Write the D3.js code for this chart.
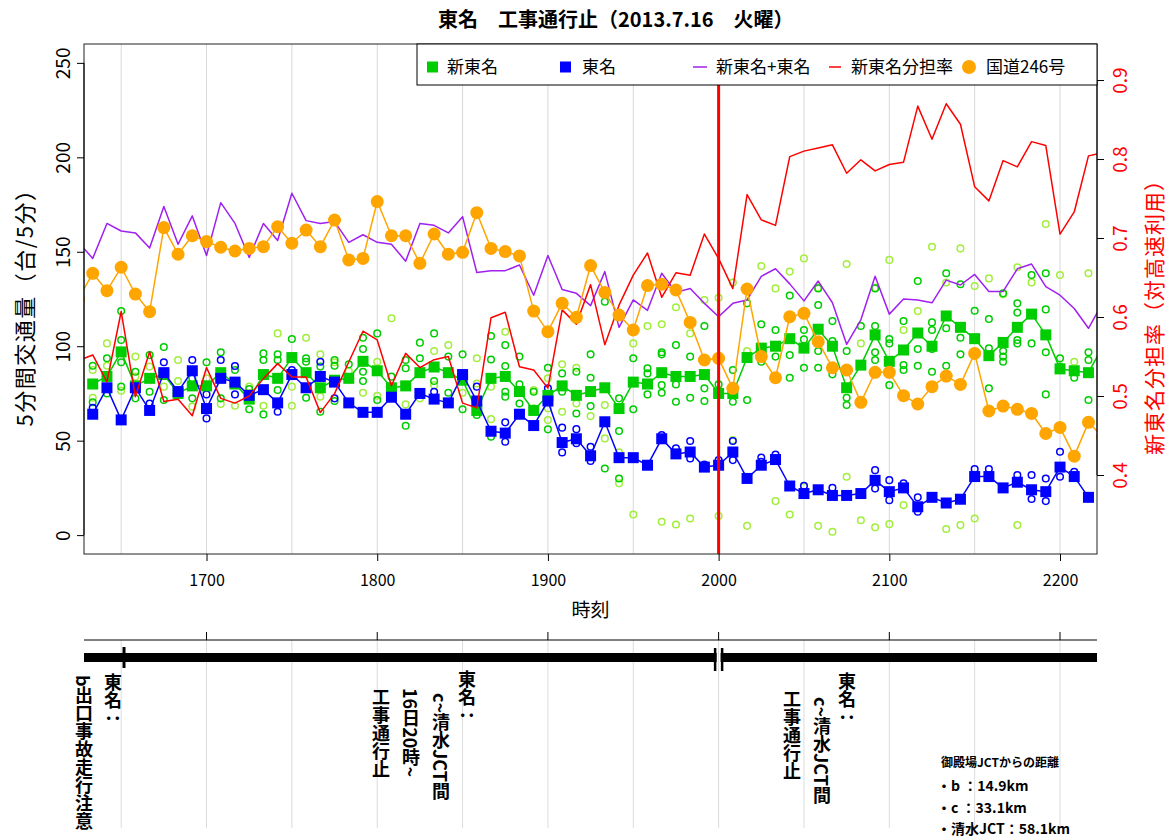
<!DOCTYPE html>
<html>
<head>
<meta charset="utf-8">
<script src="https://cdn.jsdelivr.net/npm/d3@7"></script>
<style>
  html, body { margin: 0; padding: 0; background: #fff; }
  svg { display: block; }
  text { font-family: "Noto Sans CJK JP", "Noto Sans", sans-serif; }
</style>
</head>
<body>
<svg id="chart" width="1172" height="837"></svg>
<script>
// 5-minute time stamps (16:15 and 22:15 lie just outside the visible window)
const times = [
  "16:15","16:20","16:25","16:30","16:35","16:40","16:45","16:50","16:55",
  "17:00","17:05","17:10","17:15","17:20","17:25","17:30","17:35","17:40","17:45","17:50","17:55",
  "18:00","18:05","18:10","18:15","18:20","18:25","18:30","18:35","18:40","18:45","18:50","18:55",
  "19:00","19:05","19:10","19:15","19:20","19:25","19:30","19:35","19:40","19:45","19:50","19:55",
  "20:00","20:05","20:10","20:15","20:20","20:25","20:30","20:35","20:40","20:45","20:50","20:55",
  "21:00","21:05","21:10","21:15","21:20","21:25","21:30","21:35","21:40","21:45","21:50","21:55",
  "22:00","22:05","22:10","22:15"
];

// 新東名 (vehicles / 5 min)
const shinTomei = [
  null, 80, 84, 97, 79, 83, 85, 75, 79,
  79, 86, 80, 72, 85, 83, 94, 86, 78, 82, 83, 92,
  87, 78, 79, 86, 89, 86, 82, 66, 83, 84, 76, 66,
  74, 79, 74, 76, 78, 67, 81, 80, 86, 84, 84, 85,
  75, 75, 94, 99, 100, 104, 99, 109, 100, 78, 90, 106,
  92, 98, 107, 100, 116, 110, 104, 95, 102, 110, 117, 106,
  88, 87, 86, 100
];

// 東名 (vehicles / 5 min)
const tomei = [
  null, 64, 78, 61, 78, 66, 86, 76, 87,
  67, 83, 81, 74, 77, 70, 85, 78, 84, 81, 70, 65,
  65, 73, 64, 75, 72, 70, 85, 71, 55, 54, 64, 58,
  71, 49, 51, 42, 60, 41, 41, 37, 51, 43, 44, 36,
  37, 44, 30, 37, 40, 26, 22, 24, 21, 21, 22, 29,
  23, 25, 15, 20, 17, 19, 31, 31, 25, 28, 24, 23,
  36, 31, 20, null
];

// 新東名+東名
const combined = [
  155, 146.5, 165, 161, 160, 152, 174, 154, 169,
  148, 176, 165, 147, 165, 156, 181, 166.5, 165, 166, 155, 159,
  155, 154, 145, 165, 164, 160, 168.6, 139, 140, 140, 143, 127,
  148, 130, 128, 121.5, 139.5, 110, 124.5, 119, 138.6, 128.5, 130.6, 122.7,
  115.6, 122.7, 124.5, 137, 141, 133, 124, 134.5, 123, 101, 114, 137,
  117, 125, 124.5, 123, 135, 132.4, 138, 129, 129, 141, 143.5, 131.5,
  127, 120, 109.5, 123
];

// 新東名分担率 (share of expressway traffic)
const shareShinTomei = [
  0.545, 0.552, 0.518, 0.607, 0.499, 0.556, 0.493, 0.496, 0.475,
  0.536, 0.497, 0.491, 0.500, 0.522, 0.541, 0.524, 0.524, 0.479, 0.503, 0.543, 0.582,
  0.571, 0.513, 0.554, 0.536, 0.546, 0.550, 0.491, 0.485, 0.599, 0.606, 0.537, 0.533,
  0.510, 0.609, 0.591, 0.641, 0.565, 0.615, 0.653, 0.681, 0.625, 0.656, 0.653, 0.705,
  0.674, 0.636, 0.755, 0.723, 0.716, 0.803, 0.810, 0.814, 0.818, 0.782, 0.799, 0.785,
  0.793, 0.796, 0.867, 0.825, 0.870, 0.844, 0.765, 0.747, 0.798, 0.790, 0.822, 0.817,
  0.705, 0.733, 0.804, 0.808
];

// 国道246号 (vehicles / 5 min)
const route246 = [
  125, 138.6, 129.4, 141.8, 127.6, 118.3, 162.8, 148.7, 158.5,
  155.4, 152.4, 150.4, 151.8, 152.7, 163.3, 154.5, 161.5, 152.7, 166.8, 145.7, 146.5,
  176.6, 158.5, 158.5, 143.9, 159.4, 148.7, 149.7, 170.7, 151.8, 150.1, 147.8, 118.6,
  107.7, 122.7, 115.3, 142.7, 128.5, 116.5, 108.6, 132.1, 132.8, 129.8, 112.6, 92.7,
  93.6, 77.7, 130.3, 94.5, 83.3, 115.6, 117.4, 102.4, 88.6, 87.4, 70.3, 86.2,
  86.2, 73.8, 69.4, 78.6, 84.2, 79.8, 96.2, 65.7, 68.3, 66.6, 64.4, 53.8,
  57, 41.8, 59.7, 52
];

// individual counter sections, 新東名 (open circles, dark green)
const sectionsShinTomei = [
  [], [89.7,70.3], [93.6,75.0], [118.6,103.3,91.5,78.6], [86.5,72.4], [95.3,75.9], [99.6,71.5], [], [83.0,72.4],
  [91.5], [96.8,72.4], [87.4], [77.3,66.6], [96.2,92.7,63.9], [95.7,92.7,76.8], [103.8], [93.6,91.8,72.7], [89.2,65.3], [92.7,89.7,71.0], [90.4], [104.5,98.5,86.5,81.6],
  [106.8,71.5], [83.9], [92.7,88.3,57.9], [101.9,93.6], [106.8,81.6], [94.5,75.4], [95.7,66.6], [63.6], [105.4,93.0,52.1], [100.6,89.5,75.9,73.3], [94.5,79.8,69.7], [75.9],
  [88.6,56.0], [85.6,75.9], [86.5,64.4], [95.7,83.3,68.3], [123.6,35.3], [72.4,55.1,30.0], [93.6,66.6], [88.3,85.6,74.5], [96.8,95.7,79.4,75.4], [100.6,79.8,70.6], [94.5,72.7], [110.7,77.7,71.0],
  [79.8], [87.4,70.6], [122.7,71.5], [111.6,91.8], [108.6,94.5], [126.8,95.3,83.3], [108.6,103.6,88.6], [130.6,121.8,97.5,88.6], [113.3,102.8,85.1], [97.5,72.7,68.9], [110.7], [130.6,110.7,96.8,92.7],
  [103.8,101.5,79.4], [113.3,90.0,87.4], [134.5,98.5,89.7], [112.6,108.6,98.5,86.5], [138.6,109.5,89.7], [132.8,104.5,95.7], [118.8], [114.4,98.9,77.7], [128.0,97.5,94.5,91.8], [122.7,117.8,103.3,101.5], [137.7,101.5], [138.6,119.5,96.8,74.5],
  [93.6,89.2], [83.3], [96.8,92.7,71.5], []
];

// individual counter sections, 新東名 (open circles, light green)
const sectionsShinTomeiB = [
  [], [87.4,72.7], [101.5,89.7], [76.4], [94.5,83.9], [89.2], [78.6], [92.7,81.6], [68.0],
  [83.0], [69.4], [68.5], [78.6], [68.5], [106.8], [78.6,68.5], [104.5], [95.7,73.3], [91.5], [86.9], [75.4],
  [91.8,73.8], [114.8], [69.2], [72.4], [97.5,79.4], [100.6], [75.4], [93.6,80.3], [78.6,61.4], [107.7], [], [76.8,67.1],
  [83.0,67.1,60.9], [90.4,65.3], [88.6,69.7], [63.0], [68.9,51.2], [43.8,27.4], [101.5,10.9], [110.7], [111.6,7.1], [120.6,5.6], [106.8,8.8], [124.5],
  [125.7,76.8,10.1], [133.7,50.3], [97.5,4.9], [142.5], [130.6,18.0], [139.5,10.9], [146.5,25.6], [131.0,4.9], [1.8], [143.5,30.9], [101.5,7.9], [131.0,4.1],
  [145.7,5.8], [108.6,15.9], [118.6], [152.7], [133.7,3.2], [151.8,5.3], [131.9,8.8], [135.9], [127.5], [141.8,5.3], [133.7], [164.7],
  [137.7], [91.8], [138.6], []
];

// individual counter sections, 東名 (open circles, blue)
const sectionsTomei = [
  [], [67.4], [], [], [], [69.7], [91.5], [], [92.7],
  [74.5,61.8], [92.7], [89.5,74.5], [], [], [65.3], [87.4], [], [91.8], [72.4], [], [],
  [], [], [], [], [75.9], [], [], [78.6], [], [59.7,49.4], [], [],
  [77.7], [56.9,43.8], [56.1,48.6], [46.8,39.2], [], [], [], [], [53.0], [45.9], [49.8,40.6], [37.4],
  [39.7], [49.8,39.7], [], [41.1,38.8], [42.7], [], [26.1], [], [25.1], [], [], [34.4,24.7],
  [29.1,18.5], [27.4], [20.0,12.4], [], [], [], [35.0], [35.0], [], [31.8], [31.8,19.1], [30.0,18.0],
  [44.1,30.9], [33.5], [], []
];

const hourTicks = ["17:00","18:00","19:00","20:00","21:00","22:00"];
const gridTimes = ["16:30","17:00","17:30","18:00","18:30","19:00","19:30","20:00","20:30","21:00","21:30","22:00"];
const leftTicks = [0, 50, 100, 150, 200, 250];
const rightTicks = [0.4, 0.5, 0.6, 0.7, 0.8, 0.9];

const colors = {
  shinTomei: "#00cd00", shinTomeiB: "#a2ee3c", tomei: "#0000ff",
  combined: "#a020f0", share: "#ff0000", route246: "#ffa500"
};

const svg = d3.select("#chart");
const plot = { left: 84, right: 1097, top: 44, bottom: 554 };
const parseT = d3.timeParse("%H:%M");
const parseTs = d3.timeParse("%H:%M:%S");
const tDates = times.map(parseT);

const x = d3.scaleTime()
  .domain([parseTs("16:16:56"), parseTs("22:13:00")])
  .range([plot.left, plot.right]);
const yL = d3.scaleLinear().domain([-10, 260]).range([plot.bottom, plot.top]);
const yR = d3.scaleLinear().domain([0.3, 0.9456]).range([plot.bottom, plot.top]);

svg.append("defs").append("clipPath").attr("id", "plotClip")
  .append("rect")
  .attr("x", plot.left).attr("y", plot.top)
  .attr("width", plot.right - plot.left).attr("height", plot.bottom - plot.top);

// title
svg.append("text")
  .attr("x", 438).attr("y", 27)
  .style("font-size", "20px").style("font-weight", "bold")
  .text("東名　工事通行止（2013.7.16　火曜）");

// vertical grid every 30 minutes
svg.append("g").selectAll("line").data(gridTimes).join("line")
  .attr("x1", d => x(parseT(d))).attr("x2", d => x(parseT(d)))
  .attr("y1", plot.top).attr("y2", plot.bottom)
  .attr("stroke", "#d8d8d8").attr("stroke-width", 1);

const marks = svg.append("g").attr("clip-path", "url(#plotClip)");

// section circles
function sectionCircles(sets, color) {
  const pts = [];
  sets.forEach((vals, i) => vals.forEach(v => pts.push({ t: tDates[i], v })));
  marks.append("g").selectAll("circle").data(pts).join("circle")
    .attr("cx", d => x(d.t)).attr("cy", d => yL(d.v)).attr("r", 3.3)
    .attr("fill", "none").attr("stroke", color).attr("stroke-width", 1.5);
}
sectionCircles(sectionsShinTomeiB, colors.shinTomeiB);
sectionCircles(sectionsShinTomei, colors.shinTomei);
sectionCircles(sectionsTomei, colors.tomei);

function seriesLine(vals, yScale, color, width) {
  const line = d3.line()
    .defined(d => d[1] !== null)
    .x(d => x(d[0])).y(d => yScale(d[1]));
  marks.append("path")
    .datum(vals.map((v, i) => [tDates[i], v]))
    .attr("d", line).attr("fill", "none")
    .attr("stroke", color).attr("stroke-width", width)
    .attr("stroke-linejoin", "round");
}
function squares(vals, color) {
  const s = 11;
  marks.append("g").selectAll("rect")
    .data(vals.map((v, i) => [tDates[i], v]).filter(d => d[1] !== null))
    .join("rect")
    .attr("x", d => x(d[0]) - s / 2).attr("y", d => yL(d[1]) - s / 2)
    .attr("width", s).attr("height", s).attr("fill", color);
}

seriesLine(shinTomei, yL, colors.shinTomei, 1.5);
squares(shinTomei, colors.shinTomei);
seriesLine(tomei, yL, colors.tomei, 1.5);
squares(tomei, colors.tomei);
seriesLine(combined, yL, colors.combined, 1.5);
seriesLine(shareShinTomei, yR, colors.share, 1.5);
seriesLine(route246, yL, colors.route246, 1.5);
marks.append("g").selectAll("circle")
  .data(route246.map((v, i) => [tDates[i], v]))
  .join("circle")
  .attr("cx", d => x(d[0])).attr("cy", d => yL(d[1])).attr("r", 6.5)
  .attr("fill", colors.route246);

// closure start marker at 20:00
svg.append("line")
  .attr("x1", x(parseT("20:00"))).attr("x2", x(parseT("20:00")))
  .attr("y1", plot.top).attr("y2", plot.bottom)
  .attr("stroke", "#ff0000").attr("stroke-width", 3);

// frame
svg.append("rect")
  .attr("x", plot.left).attr("y", plot.top)
  .attr("width", plot.right - plot.left).attr("height", plot.bottom - plot.top)
  .attr("fill", "none").attr("stroke", "#222").attr("stroke-width", 1);

// axes
const xAxis = svg.append("g").attr("transform", `translate(0,${plot.bottom})`)
  .call(d3.axisBottom(x).tickValues(hourTicks.map(parseT))
    .tickFormat(d3.timeFormat("%H%M")).tickSize(7).tickSizeOuter(0));
xAxis.select(".domain").remove();
xAxis.selectAll("text").attr("y", 21).attr("dy", "0.71em")
  .style("font-size", "16px").attr("fill", "#000");

const yAxisL = svg.append("g").attr("transform", `translate(${plot.left},0)`)
  .call(d3.axisLeft(yL).tickValues(leftTicks).tickSize(7).tickSizeOuter(0));
yAxisL.select(".domain").attr("d", `M0,${yL(0)}V${yL(250)}`);
yAxisL.selectAll("text")
  .attr("transform", "rotate(-90)").attr("x", 0).attr("y", -14).attr("dy", 0)
  .attr("text-anchor", "middle").style("font-size", "19px").attr("fill", "#000");

const yAxisR = svg.append("g").attr("transform", `translate(${plot.right},0)`)
  .call(d3.axisRight(yR).tickValues(rightTicks).tickFormat(d3.format(".1f")).tickSize(7).tickSizeOuter(0));
yAxisR.select(".domain").attr("d", `M0,${yR(0.4)}V${yR(0.9)}`);
yAxisR.selectAll("text")
  .attr("transform", "rotate(-90)").attr("x", 0).attr("y", 30).attr("dy", 0)
  .attr("text-anchor", "middle").style("font-size", "19px").attr("fill", "#ff0000");

// axis titles
svg.append("text")
  .attr("transform", `translate(33,302) rotate(-90)`)
  .attr("text-anchor", "middle").style("font-size", "22px").style("letter-spacing", "1.5px")
  .text("5分間交通量（台/5分）");
svg.append("text")
  .attr("transform", `translate(1162,312) rotate(-90)`)
  .attr("text-anchor", "middle").style("font-size", "21px").style("letter-spacing", "1px")
  .attr("fill", "#ff0000")
  .text("新東名分担率（対高速利用）");
svg.append("text")
  .attr("x", (plot.left + plot.right) / 2).attr("y", 617)
  .attr("text-anchor", "middle").style("font-size", "19px")
  .text("時刻");

// legend
const lg = svg.append("g");
lg.append("rect").attr("x", 417).attr("y", plot.top).attr("width", plot.right - 417).attr("height", 41)
  .attr("fill", "#fff").attr("stroke", "#000").attr("stroke-width", 1);
const ly = 67;
lg.append("rect").attr("x", 427).attr("y", ly - 5.5).attr("width", 11).attr("height", 11).attr("fill", colors.shinTomei);
lg.append("rect").attr("x", 560).attr("y", ly - 5.5).attr("width", 11).attr("height", 11).attr("fill", colors.tomei);
lg.append("line").attr("x1", 693).attr("x2", 707).attr("y1", ly).attr("y2", ly).attr("stroke", colors.combined).attr("stroke-width", 1.5);
lg.append("line").attr("x1", 829).attr("x2", 841).attr("y1", ly).attr("y2", ly).attr("stroke", colors.share).attr("stroke-width", 1.5);
lg.append("circle").attr("cx", 969).attr("cy", ly).attr("r", 7).attr("fill", colors.route246);
[["新東名", 447], ["東名", 582], ["新東名+東名", 716], ["新東名分担率", 851], ["国道246号", 986]]
  .forEach(([label, lx]) => lg.append("text").attr("x", lx).attr("y", ly + 6)
    .style("font-size", "17px").text(label));

// ---- event timeline panel ----
const tl = svg.append("g");
tl.append("g").selectAll("line").data(gridTimes).join("line")
  .attr("x1", d => x(parseT(d))).attr("x2", d => x(parseT(d)))
  .attr("y1", 640).attr("y2", 828)
  .attr("stroke", "#dcdcdc").attr("stroke-width", 1);
tl.append("line").attr("x1", plot.left).attr("x2", plot.right).attr("y1", 640).attr("y2", 640)
  .attr("stroke", "#000").attr("stroke-width", 1);
tl.append("g").selectAll("line").data(hourTicks).join("line")
  .attr("x1", d => x(parseT(d))).attr("x2", d => x(parseT(d)))
  .attr("y1", 640).attr("y2", 632).attr("stroke", "#000").attr("stroke-width", 1);
const x20 = x(parseT("20:00"));
tl.append("rect").attr("x", plot.left).attr("y", 653).attr("width", x20 - 2 - plot.left).attr("height", 9).attr("fill", "#000");
tl.append("rect").attr("x", x20 + 2).attr("y", 653).attr("width", plot.right - x20 - 2).attr("height", 9).attr("fill", "#000");
tl.append("line").attr("x1", x20 - 3.5).attr("x2", x20 - 3.5).attr("y1", 648).attr("y2", 671).attr("stroke", "#000").attr("stroke-width", 2.5);
tl.append("line").attr("x1", x20 + 3.5).attr("x2", x20 + 3.5).attr("y1", 648).attr("y2", 671).attr("stroke", "#000").attr("stroke-width", 2.5);
const xEv = x(parseTs("16:31:00"));
tl.append("line").attr("x1", xEv).attr("x2", xEv).attr("y1", 647).attr("y2", 668).attr("stroke", "#000").attr("stroke-width", 3);

function vText(cx, top, str) {
  tl.append("text").attr("x", cx).attr("y", top)
    .style("writing-mode", "vertical-rl")
    .style("font-size", "18px").style("font-weight", "bold")
    .text(str);
}
vText(113, 673, "東名：");
vText(84, 675, "b出口事故走行注意");
vText(467, 670, "東名：");
vText(441, 693, "c~清水JCT間");
vText(411, 688, "16日20時~");
vText(381, 688, "工事通行止");
vText(847, 672, "東名：");
vText(822, 697, "c~清水JCT間");
vText(792, 690, "工事通行止");

tl.append("text").attr("x", 1000).attr("y", 767).attr("text-anchor", "middle")
  .style("font-size", "12px").style("font-weight", "bold").text("御殿場JCTからの距離");
[["・b ：14.9km", 791], ["・c ：33.1km", 813], ["・清水JCT：58.1km", 834]]
  .forEach(([s, yy]) => tl.append("text").attr("x", 937).attr("y", yy)
    .style("font-size", "14px").style("font-weight", "bold").text(s));
</script>
</body>
</html>
